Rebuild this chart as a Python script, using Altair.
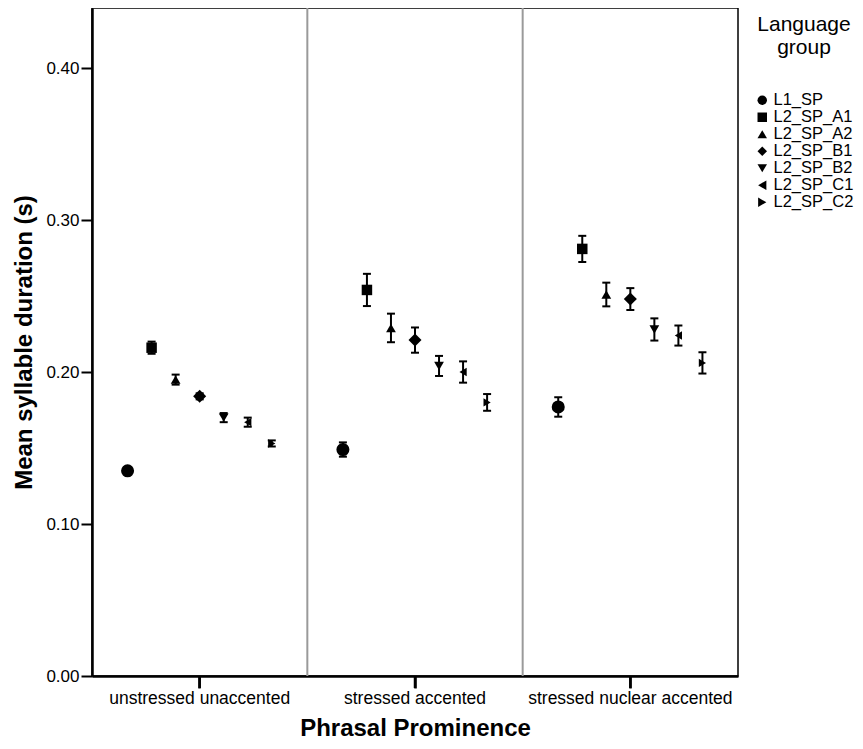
import altair as alt
import pandas as pd

phrases = ["unstressed unaccented", "stressed accented", "stressed nuclear accented"]
groups = ["L1_SP", "L2_SP_A1", "L2_SP_A2", "L2_SP_B1", "L2_SP_B2", "L2_SP_C1", "L2_SP_C2"]
shapes = ["circle", "square", "triangle-up", "diamond", "triangle-down", "triangle-left", "triangle-right"]
marker_sizes = [170, 110, 95, 170, 95, 70, 70]

means_uu = [0.135, 0.216, 0.195, 0.184, 0.170, 0.167, 0.153]
err_uu = [0.002, 0.004, 0.0033, 0.002, 0.003, 0.003, 0.002]
means_sa = [0.149, 0.254, 0.229, 0.221, 0.204, 0.200, 0.180]
err_sa = [0.0047, 0.0106, 0.0094, 0.0083, 0.0066, 0.007, 0.0055]
means_sna = [0.177, 0.281, 0.251, 0.248, 0.228, 0.224, 0.206]
err_sna = [0.0064, 0.0086, 0.0078, 0.0072, 0.0073, 0.0066, 0.007]

rows = []
for ph, ms, es in zip(phrases, [means_uu, means_sa, means_sna], [err_uu, err_sa, err_sna]):
    for g, m, e in zip(groups, ms, es):
        rows.append({"phrase": ph, "group": g, "mean": m, "lo": m - e, "hi": m + e})
df = pd.DataFrame(rows)
cat_df = pd.DataFrame({"phrase": phrases})
div_df = pd.DataFrame({"phrase": phrases[1:]})

FONT = "Liberation Sans"
PLOT_H = 668
x_enc = alt.X("phrase:N", sort=phrases, scale=alt.Scale(domain=phrases, paddingInner=0, paddingOuter=0),
              axis=alt.Axis(title="Phrasal Prominence", labelAngle=0, labelAlign="center",
                            labelLimit=400, ticks=True, tickSize=12, tickWidth=2.5, tickColor="black",
                            labelPadding=1))
xoff = alt.XOffset("group:N", sort=groups, scale=alt.Scale(domain=groups, paddingOuter=0.98, paddingInner=0))
y_enc = alt.Y("mean:Q", scale=alt.Scale(domain=[0, 0.4395], nice=False, zero=True),
              axis=alt.Axis(title="Mean syllable duration (s)", values=[0, 0.1, 0.2, 0.3, 0.4], format=".2f"))
shape_enc = alt.Shape("group:N", sort=groups, scale=alt.Scale(domain=groups, range=shapes),
                      legend=alt.Legend(title=["Language", "group"], symbolSize=90,
                                        orient="none", legendX=662, legendY=6))

base = alt.Chart(df)

dividers = alt.Chart(div_df).mark_rule(color="#9a9a9a", strokeWidth=2).encode(
    x=alt.X("phrase:N", sort=phrases, bandPosition=0),
    y=alt.value(0),
    y2=alt.value(PLOT_H),
)
xticks = alt.Chart(cat_df).mark_rule(color="black", strokeWidth=2.5, clip=False, strokeCap="butt").encode(
    x=alt.X("phrase:N", sort=phrases),
    y=alt.value(PLOT_H),
    y2=alt.value(PLOT_H + 12),
)

bars = base.mark_rule(color="black", strokeWidth=2).encode(
    x=x_enc, xOffset=xoff, y=alt.Y("lo:Q"), y2="hi:Q")
cap_lo = base.mark_tick(color="black", orient="horizontal", size=8, thickness=2, opacity=1).encode(
    x=x_enc, xOffset=xoff, y=alt.Y("lo:Q"))
cap_hi = base.mark_tick(color="black", orient="horizontal", size=8, thickness=2, opacity=1).encode(
    x=x_enc, xOffset=xoff, y=alt.Y("hi:Q"))

point_layers = []
for g, s in zip(groups, marker_sizes):
    point_layers.append(
        base.transform_filter(alt.datum.group == g)
        .mark_point(filled=True, color="black", opacity=1, size=s)
        .encode(x=x_enc, xOffset=xoff, y=y_enc, shape=shape_enc)
    )

chart = alt.layer(bars, cap_lo, cap_hi, *point_layers, dividers, xticks).properties(
    width=646, height=PLOT_H,
    autosize=alt.AutoSizeParams(type="none"),
    padding={"left": 84, "top": 0, "right": 117, "bottom": 65},
).configure_view(
    stroke="black", strokeWidth=1.5
).configure_axis(
    grid=False, domainColor="black", domainWidth=2.5, tickColor="black", tickWidth=2, tickSize=11,
    labelFont=FONT, titleFont=FONT, labelColor="black", titleColor="black",
    titleFontWeight="bold", titleFontSize=24,
).configure_axisY(
    labelFontSize=17, labelPadding=2, titlePadding=9,
).configure_axisX(
    labelFontSize=17.5, titlePadding=10,
).configure_legend(
    titleFont=FONT, labelFont=FONT, titleFontSize=21,
    titleFontWeight="normal", titleAlign="center", titleAnchor="middle", titleLineHeight=23,
    labelFontSize=16.5, labelColor="black", titleColor="black", rowPadding=0,
    symbolFillColor="black", symbolStrokeColor="black", titlePadding=34, labelOffset=3,
)

chart.save("out.html", embed_options={"renderer": "svg", "actions": False})
